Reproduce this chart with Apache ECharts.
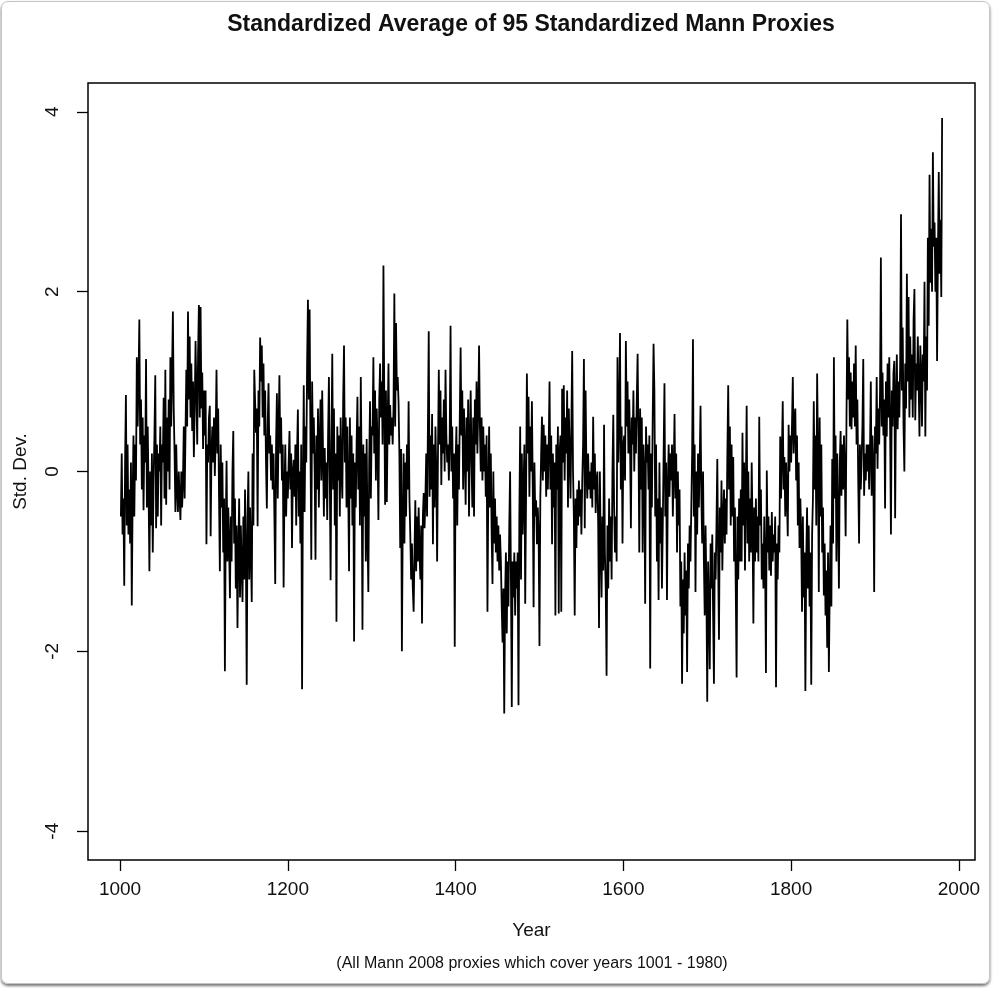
<!DOCTYPE html>
<html><head><meta charset="utf-8">
<script src="https://cdn.jsdelivr.net/npm/echarts@6/dist/echarts.min.js"></script>
<style>
html,body{margin:0;padding:0;background:#fff;}
#chart{position:absolute;left:0;top:0;width:993px;height:988px;}
#frame{position:absolute;left:1px;top:1px;width:987px;height:981px;border:1px solid #c4c4c4;border-radius:7px;box-shadow:0 2px 3px rgba(0,0,0,0.55);pointer-events:none;}
</style>
</head><body><div id="chart"></div><div id="frame"></div>
<script>
const startYear = 1001;
const v1000s = [
-0.5,0.2,-0.7,-0.3,-1.27,0.1,0.85,-0.6,0.3,-0.7,
-0.2,-0.8,0.1,-1.49,-0.3,0.4,-0.5,0.3,-0.1,1.27,
0.5,1.0,1.69,0.3,0.8,-0.2,0.6,-0.43,0.4,0.1,
1.25,-0.4,0.5,-0.2,-1.11,0.0,-0.6,0.2,-0.9,-0.1,
0.4,1.07,-0.63,0.3,-0.5,0.2,0.0,0.5,-0.6,0.3,
0.1,0.82,-0.3,1.13,-0.37,0.6,0.0,0.8,-0.2,1.27,
0.5,1.1,1.78,0.7,0.2,-0.45,0.3,-0.2,-0.45,0.0,
-0.3,-0.54,0.0,-0.4,-0.1,0.5,-0.3,0.4,1.13,0.5,
1.78,0.8,1.5,0.6,1.2,0.45,1.0,0.16,0.7,1.45,
0.9,0.3,1.3,1.85,0.6,1.83,0.7,1.1,0.25,0.9];
const v1100s = [
0.4,0.9,-0.81,0.3,0.1,0.6,0.73,-0.72,0.2,0.5,
0.1,0.6,-0.05,0.4,1.13,0.2,0.7,-0.28,-1.11,0.3,
-0.4,0.1,-0.9,-0.3,-2.22,-0.6,0.12,-1.0,-0.4,-0.8,
-1.41,-0.5,-1.0,0.0,0.45,-0.8,-0.3,-1.3,-0.6,-1.74,
-0.9,-0.3,-1.4,-0.6,-1.1,-1.45,-0.5,-1.2,-0.2,-0.9,
-2.37,-0.5,0.0,-1.2,-0.4,-0.9,-1.45,0.2,-0.6,1.13,
0.78,0.43,0.7,-0.61,0.9,0.5,1.49,1.0,1.4,0.6,
1.2,0.4,0.9,0.1,-0.41,0.5,0.98,0.2,0.4,-0.1,
0.3,-0.2,0.2,-0.5,-1.25,0.3,0.87,-0.3,0.5,1.07,
0.2,0.6,-0.1,0.3,-1.29,-0.2,0.3,-0.5,0.0,-0.3];
const v1200s = [
0.1,0.45,-0.2,0.2,-0.85,0.0,0.13,-0.28,0.3,-0.6,
0.2,0.69,-0.5,0.0,-0.8,0.3,-2.42,-0.2,0.96,-0.45,
0.5,0.1,1.2,1.91,0.8,1.8,0.3,-0.98,1.0,0.2,
0.6,0.0,-0.98,0.4,-0.2,0.7,-0.4,0.3,0.8,-0.1,
0.9,0.2,-0.5,0.26,-0.3,0.1,-0.54,0.4,1.05,0.0,
-1.21,0.3,1.31,-0.2,0.7,-0.6,0.2,-1.67,0.5,-0.1,
0.4,-0.5,0.6,0.0,-0.3,0.8,1.40,0.1,0.6,-0.4,
0.5,-0.2,-1.11,0.6,-0.3,0.4,-0.6,0.2,-1.89,0.1,
-0.4,0.3,0.83,-0.2,0.5,-0.6,1.05,0.0,-1.76,0.3,
-0.5,0.2,-1.0,0.36,-0.7,-1.34,0.1,0.78,-0.3,0.5];
const v1300s = [
0.4,1.27,0.2,0.9,-0.1,0.7,0.3,-0.54,0.8,1.2,
0.6,1.0,0.3,2.29,0.8,-0.37,0.9,-0.34,0.5,1.2,
0.3,0.74,0.4,0.6,0.3,0.7,1.98,0.5,1.65,0.9,
1.05,0.78,0.2,-0.85,0.25,-2.0,-0.6,0.2,-0.8,0.1,
-0.5,0.3,-0.2,0.78,-0.3,-0.7,-1.2,-0.8,-1.3,-1.56,
-0.9,-0.32,-1.11,-0.5,-1.0,-0.4,-0.9,-1.2,-0.6,-1.69,
-0.5,-0.24,-0.63,-0.3,0.2,-0.5,0.5,1.56,-0.28,0.4,
-0.2,0.64,-0.81,0.3,-0.4,0.5,0.0,-1.0,0.2,1.13,
0.3,0.9,-0.15,0.6,0.2,0.8,0.0,1.13,0.4,0.1,
0.3,-0.1,0.4,1.62,0.0,0.5,-0.3,0.2,-1.95,0.1];
const v1400s = [
0.5,-0.6,0.3,-0.2,0.6,1.38,0.4,0.9,-0.2,0.7,
0.2,-0.37,0.6,0.0,0.8,-0.5,0.3,0.9,0.1,-0.4,
0.6,-0.5,0.8,0.3,1.0,0.2,0.7,1.40,0.5,0.0,
0.6,-0.1,0.5,0.0,0.3,-0.28,0.4,-1.56,-0.2,0.5,
-0.4,0.2,-0.7,-1.25,0.0,-0.8,-0.3,-0.9,-0.5,-1.0,
-0.6,-1.1,-0.7,-1.0,-1.5,-1.9,-1.3,-2.69,-1.4,-0.9,
-1.8,-1.0,-1.5,-0.6,0.0,-1.2,-2.62,-1.0,-1.4,-0.9,
-1.6,-1.0,-1.3,-0.9,-2.6,-0.5,0.5,-1.2,0.2,-0.7,
-0.2,0.3,-1.47,-0.3,1.09,0.2,0.83,-0.28,0.5,0.0,
0.78,-0.2,-1.51,0.1,-0.5,-0.32,-0.81,-0.4,-0.7,-1.94];
const v1500s = [
-0.3,0.2,0.61,-0.1,0.52,0.0,0.4,-0.28,0.3,-0.2,
0.3,1.0,-0.2,0.4,-0.81,0.2,-0.4,0.1,-1.6,0.3,
-0.2,0.5,-1.58,0.2,0.4,-1.56,0.92,0.1,0.96,-0.1,
0.6,0.2,0.9,-0.4,0.7,0.2,-0.3,0.5,1.34,0.0,
-0.5,-1.6,-0.3,-0.85,-0.2,-0.6,-0.1,-0.5,-0.2,-0.7,
-0.1,0.3,1.25,-0.63,0.9,0.0,-0.3,0.2,-0.2,0.0,
-0.3,0.1,-0.4,0.61,-0.2,0.2,-0.46,-0.1,0.0,-0.6,
-1.74,0.0,-0.8,-1.4,-0.5,-1.1,0.52,-0.9,-1.3,-2.27,
-0.6,-1.3,-0.3,-1.0,-0.5,-1.2,0.0,0.63,-0.4,-0.9,
-0.5,-1.0,1.27,0.1,0.6,1.54,-0.2,0.5,-0.8,0.3];
const v1600s = [
0.4,-0.1,1.45,0.5,1.0,0.2,0.8,0.3,-0.63,0.6,
0.3,0.9,0.0,0.6,0.2,0.8,1.31,0.4,-0.9,0.7,
-0.2,0.6,-0.9,0.3,0.0,-1.47,0.5,0.1,0.3,-0.2,
0.4,-2.19,0.2,-0.4,0.6,1.42,0.9,-0.5,0.3,-1.0,
-0.3,-1.43,0.1,-0.8,-0.4,-1.3,-0.6,0.2,0.98,-0.5,
0.1,-1.43,-0.2,0.3,-0.28,0.2,-0.1,0.3,-0.5,0.0,
0.64,-0.3,0.2,-0.9,0.0,-0.6,-0.2,-1.5,-1.0,-2.36,
-1.2,-1.8,-0.9,-1.6,-1.1,-2.23,-0.8,-1.3,-0.6,-1.0,
-0.4,0.2,1.47,-0.5,0.3,-1.34,0.0,-0.7,0.2,-0.4,
0.1,0.73,-0.3,-0.8,0.0,-1.0,-1.6,-0.6,-1.3,-2.56];
const v1700s = [
-1.0,-1.5,-2.2,-0.8,-1.3,-0.7,-1.6,-2.36,-0.9,-1.2,
-0.6,0.14,-1.0,-1.87,-0.4,-0.9,-0.1,-1.1,-0.5,-0.2,
-0.8,-0.3,-0.7,0.2,0.96,-0.2,0.5,-0.6,0.3,-0.5,
0.16,-1.0,-0.4,-1.3,-2.29,-0.5,-1.2,-0.3,-1.0,-0.2,
-1.0,0.43,-0.6,0.1,-1.1,-0.2,0.73,-0.8,0.0,-1.0,
-0.3,-0.9,0.1,-0.6,-1.69,-0.4,-1.0,-0.3,-0.9,-0.5,
-1.0,0.61,-0.6,-0.2,-1.2,-0.8,-1.3,-0.5,-1.0,-2.24,
0.01,-0.9,-0.5,-1.1,-0.6,-1.16,-0.45,-1.0,-0.7,-0.9,
-0.5,-2.4,-0.8,-1.2,-0.6,-0.9,0.39,-0.3,0.2,0.78,
-0.2,0.16,-0.5,0.1,-0.3,-0.72,0.52,0.0,0.4,0.1];
const v1800s = [
0.5,1.05,0.2,0.6,0.7,-0.1,0.4,-0.6,0.1,-0.85,
-0.3,-0.7,-1.56,-0.5,-1.4,-0.9,-2.44,-1.0,-0.4,-1.3,
-0.6,-1.5,-0.9,-2.37,-0.7,-0.3,0.78,-0.2,0.4,-0.6,
1.09,0.2,-1.34,0.6,-0.5,0.3,-0.9,-0.4,-1.38,-0.8,
-1.6,-1.1,-1.96,-0.9,-2.23,-1.3,-0.6,-1.5,0.14,-0.8,
1.27,-0.3,0.4,-1.0,0.2,-0.5,-1.3,0.1,0.45,-0.27,
0.3,-0.2,0.4,0.0,-0.72,0.6,1.69,0.8,1.27,0.5,
1.1,0.47,1.0,0.6,1.2,0.5,1.4,0.3,0.8,-0.1,
-0.8,0.3,-0.2,0.1,0.5,1.25,-0.27,0.2,-0.1,0.3,
0.0,0.3,-0.2,0.2,1.0,-0.27,0.4,0.1,-1.34,0.5];
const v1900s = [
0.2,1.05,0.03,0.7,0.3,0.9,2.38,0.5,1.1,0.4,
0.8,-0.41,1.0,0.39,1.2,0.6,1.27,0.5,-0.7,0.9,
0.5,1.1,1.23,-0.52,0.8,1.3,0.47,1.0,0.6,1.2,
2.86,0.9,1.6,0.5,0.0,1.2,0.7,2.2,1.0,1.94,
0.6,1.5,0.8,1.3,0.6,1.7,2.03,0.57,1.2,0.9,
1.5,1.0,0.39,1.4,1.1,0.5,1.3,1.0,2.11,0.39,
1.5,0.9,2.6,1.62,3.3,2.1,2.7,2.0,3.55,2.5,
2.77,2.0,2.6,1.23,2.4,3.33,2.2,2.8,1.94,3.93];
const stdDev = [].concat(v1000s, v1100s, v1200s, v1300s, v1400s, v1500s, v1600s, v1700s, v1800s, v1900s);
const xTicks = [1000, 1200, 1400, 1600, 1800, 2000];
const yTicks = [-4, -2, 0, 2, 4];
const titleText = 'Standardized Average of 95 Standardized Mann Proxies';
const subText = '(All Mann 2008 proxies which cover years 1001 - 1980)';
const xName = 'Year';
const yName = 'Std. Dev.';

const seriesData = stdDev.map((v, i) => [startYear + i, v]);
const FONT = '"Liberation Sans", Arial, Helvetica, sans-serif';
const chart = echarts.init(document.getElementById('chart'), null, {renderer: 'canvas'});
chart.setOption({
  animation: false,
  backgroundColor: '#ffffff',
  grid: {left: 88, top: 83, right: 18, bottom: 128, show: true, borderColor: '#000', borderWidth: 1.5, backgroundColor: 'transparent'},
  xAxis: {
    type: 'value', min: 961.8, max: 2019.2,
    name: xName, nameLocation: 'middle', nameGap: 61,
    nameTextStyle: {fontSize: 19, color: '#111', fontFamily: FONT},
    splitLine: {show: false},
    axisLine: {show: false, onZero: false},
    axisTick: {show: true, length: 11, lineStyle: {color: '#000', width: 1.3}, customValues: xTicks},
    axisLabel: {customValues: xTicks, margin: 20, fontSize: 19, color: '#111', fontFamily: FONT, formatter: v => String(v)}
  },
  yAxis: {
    type: 'value', min: -4.32, max: 4.32,
    name: yName, nameLocation: 'middle', nameGap: 58,
    nameTextStyle: {fontSize: 19, color: '#111', fontFamily: FONT},
    splitLine: {show: false},
    axisLine: {show: false, onZero: false},
    axisTick: {show: true, length: 11, lineStyle: {color: '#000', width: 1.3}, customValues: yTicks},
    axisLabel: {customValues: yTicks, rotate: 90, margin: 26, fontSize: 19, color: '#111', fontFamily: FONT, formatter: v => String(v)}
  },
  graphic: [
    {type: 'text', silent: true, style: {text: titleText, x: 531, y: 25, textAlign: 'center', textVerticalAlign: 'middle', fontSize: 23, fontWeight: 'bold', fontFamily: FONT, fill: '#111'}},
    {type: 'text', silent: true, style: {text: subText, x: 532, y: 964, textAlign: 'center', textVerticalAlign: 'middle', fontSize: 16, fontFamily: FONT, fill: '#111'}}
  ],
  series: [{
    type: 'line', data: seriesData, showSymbol: false, symbol: 'none', silent: true,
    lineStyle: {color: '#000', width: 1.8}
  }]
});
</script>
</body></html>
